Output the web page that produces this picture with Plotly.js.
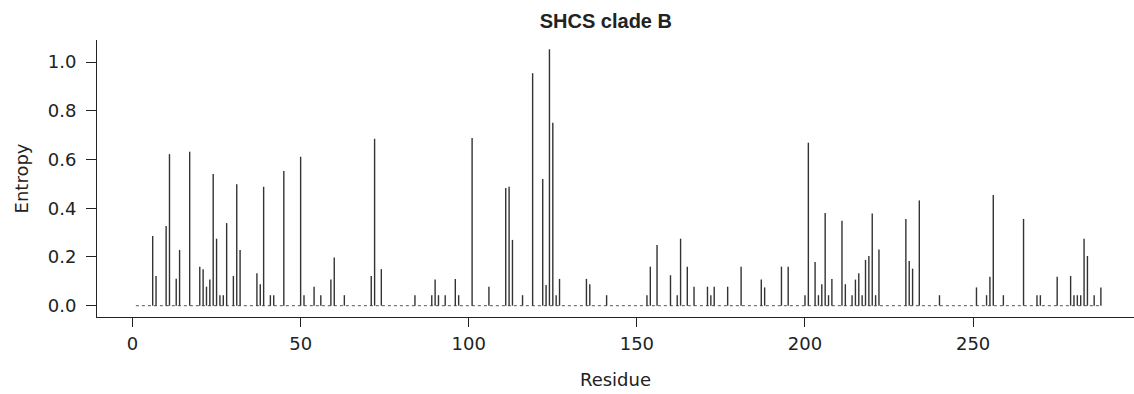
<!DOCTYPE html>
<html>
<head>
<meta charset="utf-8">
<script src="https://cdn.plot.ly/plotly-3.0.1.min.js"></script>
<style>
  html, body { margin: 0; padding: 0; background: #ffffff; }
  #chart { width: 1134px; height: 394px; }
</style>
</head>
<body>
<div id="chart"></div>
<script>
// Residue positions with non-zero entropy
const residues = [6,7,10,11,13,14,17,20,21,22,
  23,24,25,26,27,28,30,31,32,37,
  38,39,41,42,45,50,51,54,56,59,
  60,63,71,72,74,84,89,90,91,93,
  96,97,101,106,111,112,113,116,119,122,
  123,124,125,126,127,135,136,141,153,154,
  156,160,162,163,165,167,171,172,173,177,
  181,187,188,193,195,200,201,203,204,205,
  206,207,208,211,212,214,215,216,217,218,
  219,220,221,222,230,231,232,234,240,251,
  254,255,256,259,265,269,270,275,279,280,
  281,282,283,284,286,288];

// Entropy values at those residues
const entropy = [0.286,0.122,0.327,0.622,0.111,0.229,0.632,0.160,0.150,0.078,
  0.107,0.540,0.275,0.043,0.043,0.339,0.122,0.498,0.229,0.133,
  0.088,0.488,0.043,0.043,0.553,0.611,0.043,0.078,0.043,0.107,
  0.198,0.043,0.122,0.685,0.150,0.043,0.043,0.107,0.043,0.043,
  0.110,0.043,0.688,0.078,0.483,0.488,0.270,0.043,0.954,0.520,
  0.085,1.052,0.751,0.043,0.110,0.110,0.088,0.043,0.043,0.160,
  0.249,0.125,0.043,0.275,0.160,0.078,0.078,0.043,0.078,0.078,
  0.160,0.107,0.075,0.160,0.160,0.043,0.669,0.179,0.043,0.088,
  0.380,0.043,0.110,0.349,0.088,0.043,0.107,0.133,0.043,0.188,
  0.204,0.378,0.043,0.231,0.356,0.183,0.152,0.432,0.043,0.075,
  0.043,0.119,0.454,0.043,0.356,0.043,0.043,0.119,0.122,0.043,
  0.043,0.043,0.275,0.204,0.043,0.075];

// Sequence span (first residue to last residue)
const firstResidue = 1;
const lastResidue = residues[residues.length - 1];

// Tick labels
const xTickVals = [0, 50, 100, 150, 200, 250];
const yTickVals = [0, 0.2, 0.4, 0.6, 0.8, 1.0];

const titleText = 'SHCS clade B';
const xTitle = 'Residue';
const yTitle = 'Entropy';

// Build needle segments from the data
const segX = [], segY = [];
residues.forEach((r, i) => {
  segX.push(r, r, null);
  segY.push(0, entropy[i], null);
});

const baseline = {
  x: [firstResidue, lastResidue],
  y: [0, 0],
  mode: 'lines',
  type: 'scatter',
  line: { color: '#555555', width: 1, dash: 'dot' },
  hoverinfo: 'skip',
  showlegend: false
};

const needles = {
  x: segX,
  y: segY,
  mode: 'lines',
  type: 'scatter',
  line: { color: '#333333', width: 1.4 },
  connectgaps: false,
  showlegend: false
};

const fontFam = 'DejaVu Sans, Liberation Sans, Arial, sans-serif';
const titleFam = 'Liberation Sans, Arial, Helvetica, sans-serif';
const textColor = '#222222';

const layout = {
  width: 1134,
  height: 394,
  margin: { l: 97, r: 0, t: 40, b: 77, pad: 0 },
  paper_bgcolor: '#ffffff',
  plot_bgcolor: '#ffffff',
  showlegend: false,
  font: { family: fontFam, size: 18, color: textColor },
  title: {
    text: titleText,
    font: { family: titleFam, size: 20, color: textColor, weight: 'bold' },
    xref: 'paper',
    x: 0.4907,
    xanchor: 'center',
    yref: 'container',
    y: 0.946,
    yanchor: 'middle'
  },
  xaxis: {
    range: [-10.56, 297.85],
    tickmode: 'array',
    tickvals: xTickVals,
    ticktext: xTickVals.map(String),
    ticks: 'outside',
    ticklen: 9,
    tickwidth: 1,
    tickcolor: '#222222',
    showline: true,
    linecolor: '#222222',
    linewidth: 1,
    showgrid: false,
    zeroline: false,
    tickfont: { family: fontFam, size: 18, color: textColor },
    ticklabelstandoff: 1,
    title: { text: xTitle, font: { family: fontFam, size: 18, color: textColor }, standoff: 20 },
    automargin: false
  },
  yaxis: {
    range: [-0.0464, 1.0903],
    tickmode: 'array',
    tickvals: yTickVals,
    ticktext: yTickVals.map(v => v.toFixed(1)),
    ticks: 'outside',
    ticklen: 10,
    tickwidth: 1,
    tickcolor: '#222222',
    showline: true,
    linecolor: '#222222',
    linewidth: 1,
    showgrid: false,
    zeroline: false,
    tickfont: { family: fontFam, size: 18, color: textColor },
    ticklabelstandoff: 6,
    title: { text: yTitle, font: { family: fontFam, size: 18, color: textColor }, standoff: 14 },
    automargin: false
  }
};

Plotly.newPlot('chart', [baseline, needles], layout, { staticPlot: true, displayModeBar: false });
</script>
</body>
</html>
